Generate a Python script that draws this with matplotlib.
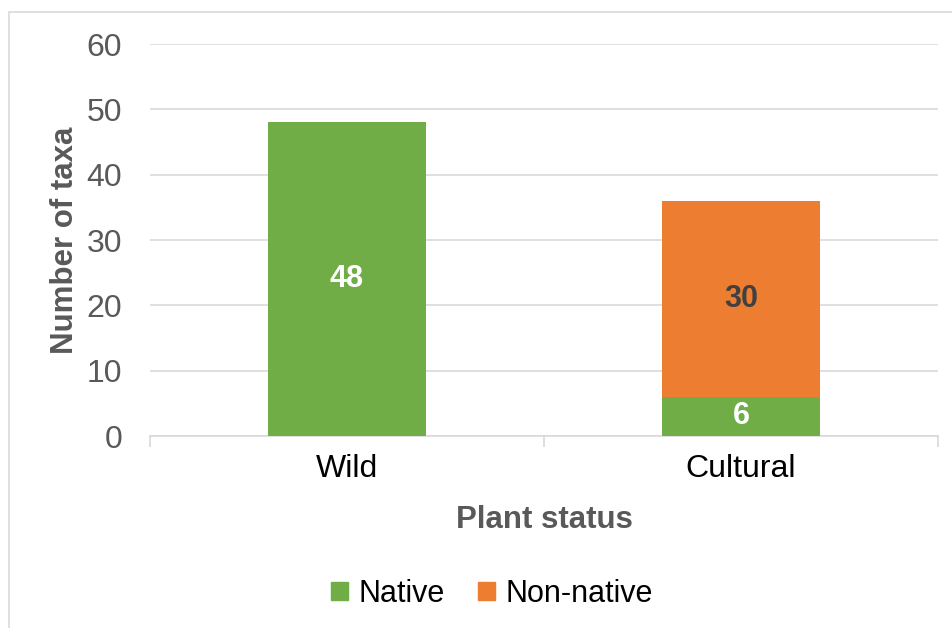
import matplotlib
matplotlib.use("Agg")
import matplotlib.pyplot as plt
from matplotlib.patches import Rectangle, Patch

plt.rcParams["font.family"] = ["Liberation Sans", "DejaVu Sans"]

categories = ["Wild", "Cultural"]
native = [48, 6]
non_native = [0, 30]
yticks = [0, 10, 20, 30, 40, 50, 60]

GREEN = "#70AD47"
ORANGE = "#ED7D31"
GRID = "#d9d9d9"
TXT = "#595959"

fig = plt.figure(figsize=(9.53, 6.28), dpi=100)
fig.patches.append(Rectangle((9 / 953, -0.05), 1.2, 1 - 12 / 628 + 0.05,
                             transform=fig.transFigure, fill=False,
                             edgecolor=GRID, lw=1.2))

ax = fig.add_axes([150 / 953, 1 - 436 / 628, 788 / 953, 392 / 628])
x = list(range(len(categories)))
ax.bar(x, native, width=0.4, color=GREEN, zorder=3, label="Native")
ax.bar(x, non_native, width=0.4, bottom=native, color=ORANGE, zorder=3,
       label="Non-native")

# segment labels
ax.text(0, native[0] / 2, str(native[0]), ha="center", va="center",
        color="white", fontsize=22, fontweight="bold", zorder=4)
ax.text(1, native[1] / 2, str(native[1]), ha="center", va="center",
        color="white", fontsize=22, fontweight="bold", zorder=4)
ax.text(1, native[1] + non_native[1] / 2, str(non_native[1]), ha="center",
        va="center", color="#404040", fontsize=22, fontweight="bold", zorder=4)

ax.set_xlim(-0.5, 1.5)
ax.set_ylim(0, 60)
ax.set_yticks(yticks)
ax.tick_params(axis="y", length=0, labelsize=23, labelcolor=TXT, pad=20)
ax.set_xticks(x)
ax.set_xticklabels(categories)
ax.tick_params(axis="x", which="major", length=0, labelsize=23, pad=13)
ax.set_xticks([-0.5, 0.5, 1.5], minor=True)
ax.tick_params(axis="x", which="minor", length=8, color=GRID, width=1.2)
ax.grid(axis="y", color=GRID, lw=1.2, zorder=0)
for s in ["top", "right", "left"]:
    ax.spines[s].set_visible(False)
ax.spines["bottom"].set_color(GRID)
ax.spines["bottom"].set_linewidth(1.2)

ax.set_ylabel("Number of taxa", fontsize=22.5, fontweight="bold", color=TXT,
              labelpad=5)
ax.set_xlabel("Plant status", fontsize=22.5, fontweight="bold", color=TXT,
              labelpad=15)

handles = [Patch(color=GREEN, label="Native"),
           Patch(color=ORANGE, label="Non-native")]
fig.legend(handles=handles, loc="center", bbox_to_anchor=(492 / 953, 1 - 594 / 628),
           ncol=2, frameon=False, fontsize=22, handlelength=0.55,
           handleheight=0.55, handletextpad=0.35, columnspacing=1.1)

fig.savefig("out.png", dpi=100)
